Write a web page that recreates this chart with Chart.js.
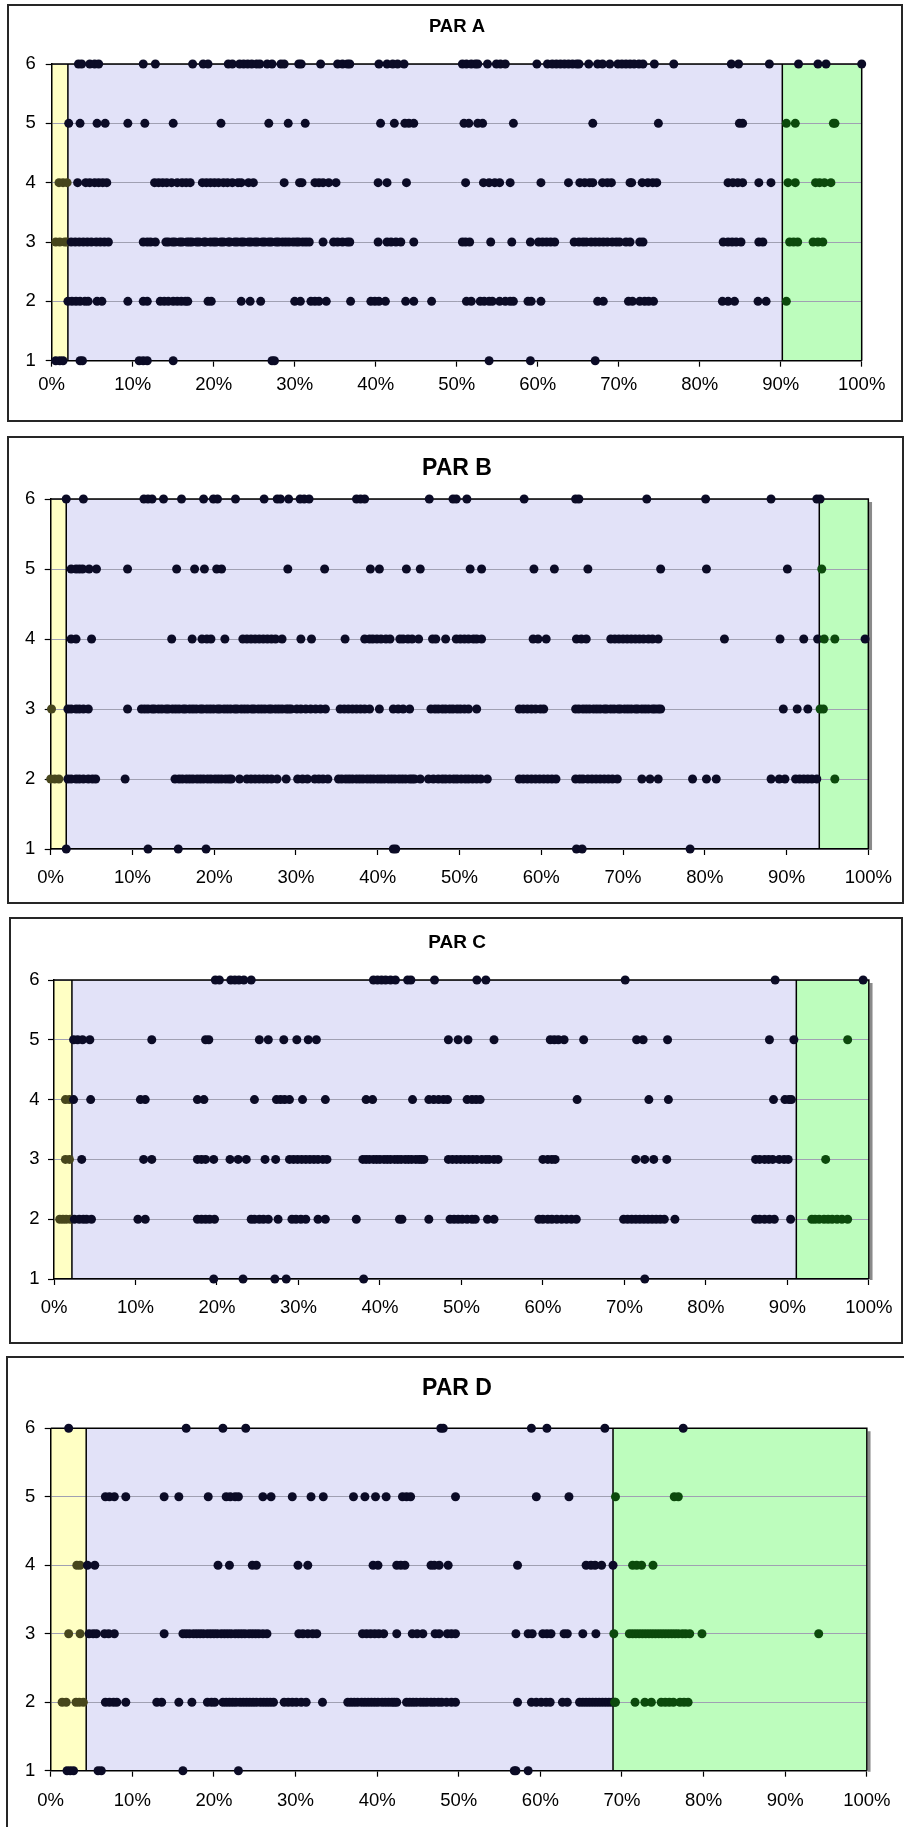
<!DOCTYPE html>
<html>
<head>
<meta charset="utf-8">
<title>PAR A - D</title>
<script src="https://cdn.jsdelivr.net/npm/chart.js@4.4.1/dist/chart.umd.min.js"></script>
<style>
  html, body { margin: 0; padding: 0; background: #fff; }
  #page { position: relative; width: 904px; height: 1827px; overflow: hidden; }
  #page canvas { position: absolute; left: 0; }
  .frame { position: absolute; border: 2px solid #262626; box-sizing: border-box; pointer-events: none; z-index: 2; }
</style>
</head>
<body>
<div id="page">
  <canvas id="chartA"></canvas>
  <canvas id="chartB"></canvas>
  <canvas id="chartC"></canvas>
  <canvas id="chartD"></canvas>
</div>
<script>
// ---- data (x in %, one array per row level) ----
const titles = ['PAR A', 'PAR B', 'PAR C', 'PAR D'];
const yLevels = [1, 2, 3, 4, 5, 6];
const yTickLabels = ['1', '2', '3', '4', '5', '6'];
const xTickLabels = ['0%', '10%', '20%', '30%', '40%', '50%', '60%', '70%', '80%', '90%', '100%'];

// band edges: yellow | lavender | green
const parA_bands = [0, 2.0, 90.2, 100];
const parB_bands = [0, 1.9, 94.0, 100];
const parC_bands = [0, 2.2, 91.1, 100];
const parD_bands = [0, 4.35, 68.9, 100];

const parA_y1 = [0.5, 1.0, 1.4, 3.5, 3.8, 10.8, 11.3, 11.8, 15.0, 27.2, 27.5, 54.0, 59.1, 67.1];
const parA_y2 = [2.0, 2.5, 3.0, 3.5, 4.1, 4.5, 5.6, 6.2, 9.4, 11.3, 11.8, 13.4, 13.9, 14.4, 15.0, 15.5, 16.0, 16.5, 16.8, 19.3, 19.7, 23.4, 24.5, 25.8, 30.0, 30.7, 32.0, 32.5, 33.0, 33.9, 36.9, 39.4, 39.9, 40.4, 41.2, 43.7, 44.7, 46.9, 51.2, 51.8, 52.9, 53.4, 54.0, 54.4, 55.3, 56.0, 56.6, 57.0, 58.8, 59.2, 60.4, 67.4, 68.1, 71.2, 71.7, 72.6, 73.2, 73.7, 74.3, 82.8, 83.5, 84.3, 87.2, 88.2, 90.7];
const parA_y3 = [0.5, 1.0, 1.6, 1.9, 2.4, 2.9, 3.4, 3.9, 4.4, 4.9, 5.5, 6.0, 6.5, 7.0, 11.3, 11.8, 12.2, 12.8, 14.1, 14.4, 14.9, 15.2, 15.8, 16.1, 16.7, 17.0, 17.3, 17.9, 18.2, 18.8, 19.0, 19.6, 20.0, 20.3, 20.9, 21.2, 21.8, 22.0, 22.6, 22.9, 23.4, 23.7, 24.3, 24.6, 25.1, 25.4, 26.0, 26.3, 26.8, 27.1, 27.7, 28.0, 28.5, 28.9, 29.3, 29.8, 30.2, 30.5, 31.0, 31.4, 31.8, 33.5, 34.8, 35.3, 35.9, 36.5, 36.8, 40.3, 41.4, 41.9, 42.5, 43.1, 44.7, 50.7, 51.1, 51.6, 54.2, 56.8, 59.1, 60.1, 60.6, 61.1, 61.6, 62.1, 64.5, 65.1, 65.6, 66.0, 66.6, 67.1, 67.6, 68.1, 68.6, 69.2, 69.7, 70.1, 70.9, 71.4, 72.6, 73.0, 82.9, 83.5, 84.0, 84.5, 85.1, 87.3, 87.8, 91.1, 91.6, 92.1, 94.0, 94.6, 95.2];
const parA_y4 = [0.9, 1.4, 1.9, 3.2, 4.2, 4.7, 5.3, 5.8, 6.3, 6.8, 12.7, 13.2, 13.7, 14.2, 14.8, 15.5, 16.1, 16.6, 17.1, 18.6, 19.1, 19.6, 20.1, 20.6, 21.2, 21.7, 22.3, 23.0, 23.4, 24.3, 24.9, 28.7, 30.6, 30.9, 32.5, 33.0, 33.5, 34.2, 35.1, 40.3, 41.4, 43.8, 51.1, 53.3, 54.0, 54.7, 55.3, 56.6, 60.4, 63.8, 65.2, 65.8, 66.4, 66.8, 68.0, 68.6, 69.1, 71.4, 71.6, 72.9, 73.6, 74.2, 74.7, 83.5, 84.1, 84.7, 85.3, 87.3, 88.8, 90.9, 91.8, 94.3, 94.8, 95.4, 96.2];
const parA_y5 = [2.1, 3.5, 5.6, 6.6, 9.4, 11.5, 15.0, 20.9, 26.8, 29.2, 31.3, 40.6, 42.3, 43.6, 44.1, 44.7, 50.9, 51.5, 52.6, 53.2, 57.0, 66.8, 74.9, 84.9, 85.3, 90.7, 91.8, 96.5, 96.7];
const parA_y6 = [3.3, 3.7, 4.7, 5.3, 5.8, 11.3, 12.8, 17.4, 18.7, 19.3, 21.8, 22.3, 23.2, 23.7, 24.2, 24.7, 25.3, 25.7, 26.6, 27.2, 28.3, 28.7, 30.5, 30.8, 33.2, 35.3, 35.9, 36.5, 36.8, 40.4, 41.4, 42.1, 42.7, 43.5, 50.7, 51.2, 51.8, 52.3, 52.6, 53.8, 54.9, 55.4, 56.0, 59.9, 61.2, 61.8, 62.3, 62.8, 63.3, 63.8, 64.3, 64.8, 65.1, 66.3, 67.4, 68.0, 68.9, 69.9, 70.4, 70.9, 71.4, 71.9, 72.5, 73.0, 74.4, 76.8, 83.9, 84.8, 88.6, 92.2, 94.6, 95.6, 100];

const parB_y1 = [1.9, 11.9, 15.6, 19.0, 41.9, 42.2, 64.3, 65.0, 78.2];
const parB_y2 = [0.0, 0.5, 1.0, 2.1, 2.5, 3.1, 3.5, 4.0, 4.6, 5.1, 5.5, 9.1, 15.2, 15.7, 16.1, 16.6, 17.0, 17.4, 17.9, 18.3, 18.7, 19.2, 19.6, 20.1, 20.5, 20.9, 21.4, 21.8, 22.1, 23.1, 24.0, 24.5, 25.0, 25.5, 26.0, 26.5, 27.0, 27.7, 28.8, 30.2, 30.8, 31.4, 32.3, 32.8, 33.3, 33.9, 35.2, 35.6, 36.1, 36.5, 36.9, 37.4, 37.8, 38.2, 38.7, 39.1, 39.5, 40.0, 40.4, 40.8, 41.3, 41.7, 42.1, 42.6, 43.0, 43.4, 43.9, 44.2, 44.5, 45.2, 46.2, 46.8, 47.4, 47.9, 48.3, 48.8, 49.3, 49.7, 50.2, 50.7, 51.1, 51.6, 52.1, 52.6, 53.4, 57.3, 57.8, 58.3, 58.8, 59.3, 59.8, 60.3, 60.8, 61.3, 61.8, 64.2, 64.7, 65.1, 65.7, 66.2, 66.7, 67.2, 67.7, 68.2, 68.7, 69.3, 72.3, 73.3, 74.3, 78.5, 80.2, 81.4, 88.1, 89.1, 89.8, 91.1, 91.6, 92.1, 92.6, 93.1, 93.7, 95.9];
const parB_y3 = [0.1, 2.1, 2.5, 3.1, 3.5, 4.0, 4.6, 9.4, 11.1, 11.5, 11.9, 12.4, 12.7, 13.2, 13.6, 14.1, 14.4, 14.9, 15.3, 15.7, 16.2, 16.5, 17.0, 17.4, 17.8, 18.3, 18.6, 19.1, 19.5, 19.9, 20.4, 20.7, 21.2, 21.6, 22.0, 22.5, 22.8, 23.3, 23.7, 24.1, 24.6, 24.9, 25.4, 25.8, 26.2, 26.7, 27.0, 27.5, 27.9, 28.3, 28.8, 29.1, 29.4, 30.1, 30.6, 31.2, 31.8, 32.4, 33.0, 33.6, 35.4, 35.9, 36.4, 36.9, 37.4, 37.9, 38.4, 39.0, 40.2, 41.9, 42.5, 43.1, 43.9, 46.5, 47.0, 47.4, 47.9, 48.3, 48.8, 49.2, 49.7, 50.1, 50.6, 51.1, 52.1, 57.3, 57.8, 58.3, 58.8, 59.3, 59.9, 60.3, 64.2, 64.6, 65.1, 65.5, 65.9, 66.4, 66.8, 67.2, 67.7, 68.0, 68.5, 68.9, 69.4, 69.7, 70.2, 70.6, 71.0, 71.5, 71.8, 72.3, 72.7, 73.1, 73.6, 73.9, 74.3, 74.6, 89.6, 91.3, 92.6, 94.1, 94.5];
const parB_y4 = [2.5, 3.1, 5.0, 14.8, 17.3, 18.5, 19.1, 19.6, 21.3, 23.5, 24.0, 24.5, 25.0, 25.5, 26.0, 26.5, 27.0, 27.5, 28.3, 30.6, 31.9, 36.0, 38.4, 39.0, 39.4, 39.9, 40.4, 41.0, 41.5, 42.7, 43.1, 43.7, 44.2, 45.0, 46.7, 47.1, 48.3, 49.6, 50.1, 50.6, 51.1, 51.7, 52.1, 52.7, 59.0, 59.6, 60.6, 64.3, 64.9, 65.5, 68.5, 69.0, 69.5, 70.0, 70.5, 71.0, 71.5, 72.0, 72.5, 73.1, 73.6, 74.3, 82.4, 89.2, 92.1, 93.8, 94.6, 95.9, 99.6];
const parB_y5 = [2.5, 3.1, 3.5, 3.9, 4.7, 5.6, 9.4, 15.4, 17.6, 18.8, 20.3, 20.9, 29.0, 33.5, 39.1, 40.2, 43.5, 45.2, 51.3, 52.7, 59.1, 61.6, 65.7, 74.6, 80.2, 90.1, 94.3];
const parB_y6 = [1.9, 4.0, 11.4, 11.9, 12.4, 13.8, 16.0, 18.7, 19.9, 20.4, 22.6, 26.1, 27.7, 28.1, 29.1, 30.5, 31.0, 31.6, 37.4, 37.9, 38.4, 46.3, 49.2, 49.6, 50.9, 57.9, 64.2, 64.6, 72.9, 80.1, 88.1, 93.7, 94.1];

const parC_y1 = [19.6, 23.2, 27.1, 28.5, 38.0, 72.5];
const parC_y2 = [0.7, 1.1, 1.5, 2.0, 2.5, 3.1, 3.6, 4.0, 4.6, 10.3, 11.2, 17.6, 18.1, 18.6, 19.1, 19.7, 24.2, 24.6, 25.2, 25.7, 26.3, 27.5, 29.2, 29.7, 30.3, 30.9, 32.4, 33.3, 37.1, 42.4, 42.7, 46.0, 48.6, 49.1, 49.6, 50.1, 50.7, 51.3, 51.7, 53.2, 54.0, 59.5, 60.0, 60.6, 61.1, 61.7, 62.3, 62.9, 63.5, 64.1, 69.9, 70.4, 70.9, 71.4, 71.9, 72.4, 72.9, 73.4, 73.9, 74.4, 74.9, 76.2, 86.1, 86.6, 87.2, 87.8, 88.4, 90.4, 93.0, 93.4, 93.9, 94.5, 95.0, 95.5, 96.1, 96.7, 97.4];
const parC_y3 = [1.4, 1.9, 3.4, 11.0, 12.0, 17.6, 18.1, 18.6, 19.6, 21.6, 22.6, 23.6, 25.9, 27.2, 28.9, 29.4, 29.9, 30.4, 30.9, 31.4, 31.9, 32.4, 33.0, 33.5, 37.9, 38.3, 38.7, 39.2, 39.6, 40.0, 40.5, 40.9, 41.3, 41.8, 42.2, 42.6, 43.1, 43.5, 43.9, 44.4, 44.8, 45.1, 45.4, 48.4, 48.9, 49.4, 49.9, 50.4, 50.9, 51.4, 51.9, 52.5, 53.0, 53.4, 54.0, 54.5, 60.0, 60.6, 61.1, 61.5, 71.4, 72.5, 73.6, 75.2, 86.1, 86.6, 87.2, 87.7, 88.2, 89.0, 89.6, 90.1, 94.7];
const parC_y4 = [1.4, 1.9, 2.4, 4.5, 10.6, 11.2, 17.6, 18.4, 24.6, 27.3, 27.8, 28.3, 28.9, 30.5, 33.3, 38.3, 39.1, 44.0, 46.0, 46.6, 47.2, 47.8, 48.3, 50.7, 51.3, 51.8, 52.3, 64.2, 73.0, 75.4, 88.3, 89.7, 90.2, 90.5];
const parC_y5 = [2.4, 2.9, 3.5, 4.4, 12.0, 18.6, 19.0, 25.2, 26.3, 28.2, 29.8, 31.2, 32.2, 48.4, 49.6, 50.8, 54.0, 60.9, 61.4, 61.9, 62.6, 65.0, 71.5, 72.3, 75.3, 87.8, 90.8, 97.4];
const parC_y6 = [19.8, 20.3, 21.7, 22.2, 22.7, 23.3, 24.2, 39.2, 39.7, 40.2, 40.7, 41.3, 41.9, 43.4, 43.8, 46.7, 51.9, 53.0, 70.1, 88.5, 99.3];

const parD_y1 = [2.0, 2.4, 2.8, 5.8, 6.2, 16.2, 23.0, 56.8, 57.0, 58.5];
const parD_y2 = [1.4, 1.9, 3.1, 3.5, 4.0, 6.7, 7.2, 7.7, 8.1, 9.2, 13.0, 13.6, 15.7, 17.3, 19.2, 19.7, 20.1, 21.1, 21.5, 21.9, 22.3, 22.7, 23.2, 23.6, 24.0, 24.4, 24.8, 25.2, 25.7, 26.1, 26.5, 26.9, 27.3, 28.6, 29.1, 29.6, 30.1, 30.7, 31.3, 33.3, 36.4, 36.8, 37.2, 37.6, 38.1, 38.5, 38.9, 39.3, 39.7, 40.1, 40.6, 41.0, 41.4, 41.8, 42.1, 42.4, 43.6, 44.0, 44.4, 44.8, 45.3, 45.7, 46.1, 46.6, 47.0, 47.5, 47.9, 48.5, 49.1, 49.6, 57.2, 58.9, 59.5, 60.1, 60.7, 61.2, 62.7, 63.3, 64.8, 65.2, 65.6, 66.0, 66.4, 66.8, 67.2, 67.6, 68.0, 68.4, 68.8, 69.1, 69.2, 71.6, 72.8, 73.6, 74.8, 75.3, 75.8, 76.3, 77.1, 77.6, 78.1];
const parD_y3 = [2.2, 3.6, 4.7, 5.2, 5.6, 6.6, 7.1, 7.8, 13.9, 16.2, 16.6, 17.0, 17.5, 17.9, 18.3, 18.7, 19.2, 19.6, 20.0, 20.4, 20.9, 21.3, 21.7, 22.1, 22.6, 23.0, 23.4, 23.8, 24.3, 24.7, 25.1, 25.5, 26.0, 26.5, 30.4, 30.9, 31.5, 32.1, 32.6, 38.2, 38.7, 39.2, 39.7, 40.2, 40.8, 42.4, 44.3, 44.9, 45.6, 47.1, 47.6, 48.6, 49.1, 49.6, 57.0, 58.5, 59.0, 60.3, 60.8, 61.3, 62.9, 63.3, 65.2, 66.8, 69.0, 70.9, 71.3, 71.7, 72.1, 72.5, 72.9, 73.3, 73.7, 74.1, 74.5, 74.9, 75.3, 75.7, 76.1, 76.5, 76.9, 77.4, 77.8, 78.3, 79.8, 94.1];
const parD_y4 = [3.2, 3.6, 4.5, 5.4, 20.5, 21.9, 24.7, 25.2, 30.3, 31.5, 39.5, 40.1, 42.4, 42.9, 43.4, 46.6, 47.0, 47.6, 48.7, 57.2, 65.6, 66.2, 66.7, 67.5, 68.9, 71.3, 71.8, 72.4, 73.8];
const parD_y5 = [6.7, 7.2, 7.8, 9.2, 13.9, 15.7, 19.3, 21.5, 22.0, 22.6, 23.0, 26.0, 27.0, 29.6, 31.9, 33.4, 37.1, 38.5, 39.8, 41.1, 43.1, 43.6, 44.1, 49.6, 59.5, 63.5, 69.2, 76.4, 76.9];
const parD_y6 = [2.2, 16.6, 21.1, 23.9, 47.8, 48.1, 58.9, 60.8, 67.9, 77.5];

// ---- styling / layout ----
const FONT = "'Liberation Sans', Arial, sans-serif";
const bandColors = ['#ffffc4', '#e2e2f8', '#bdfdbd'];
const dotColors = ['#47461c', '#0b0b26', '#0c4a0c'];
const X_AXIS_H = 40;

// page coords of each panel: canvas strip, plot area, frame box
const panels = [
    { id: 'chartA', title: titles[0], bands: parA_bands, rows: [parA_y1, parA_y2, parA_y3, parA_y4, parA_y5, parA_y6],
      top: 0, height: 425, area: { left: 51.7, right: 861.7, top: 64, bottom: 360.7 },
      titleSize: 18.5, titleY: 27, xPad: 7, yPad: 10, shadow: false, frame: [7, 4, 896, 418] },
    { id: 'chartB', title: titles[1], bands: parB_bands, rows: [parB_y1, parB_y2, parB_y3, parB_y4, parB_y5, parB_y6],
      top: 430, height: 475, area: { left: 50.7, right: 877.7, top: 499, bottom: 849 },
      titleSize: 23, titleY: 468.3, xPad: 12, yPad: 9.5, shadow: true, frame: [7, 436, 897, 468] },
    { id: 'chartC', title: titles[2], bands: parC_bands, rows: [parC_y1, parC_y2, parC_y3, parC_y4, parC_y5, parC_y6],
      top: 910, height: 440, area: { left: 54, right: 877.3, top: 980, bottom: 1279 },
      titleSize: 19, titleY: 943, xPad: 11.5, yPad: 8.5, shadow: true, frame: [9, 917, 894, 427] },
    { id: 'chartD', title: titles[3], bands: parD_bands, rows: [parD_y1, parD_y2, parD_y3, parD_y4, parD_y5, parD_y6],
      top: 1350, height: 477, area: { left: 50.7, right: 879.3, top: 1428.3, bottom: 1770.7 },
      titleSize: 23, titleY: 1388.3, xPad: 13.5, yPad: 9.5, shadow: true, frame: [6, 1356, 910, 480] }
];

// coloured bands under the grid, outlines and title on top of it
const bandPlugin = {
    id: 'bands',
    beforeDraw(chart, args, opts) {
        const { ctx, chartArea: a, scales: { x } } = chart;
        const e = opts.edges;
        ctx.save();
        for (let i = 0; i < 3; i++) {
            const x0 = x.getPixelForValue(e[i]);
            const x1 = x.getPixelForValue(e[i + 1]);
            ctx.fillStyle = bandColors[i];
            ctx.fillRect(x0, a.top, x1 - x0, a.bottom - a.top);
        }
        ctx.restore();
    },
    beforeDatasetsDraw(chart, args, opts) {
        const { ctx, chartArea: a, scales: { x } } = chart;
        const e = opts.edges;
        ctx.save();
        if (opts.shadow) {
            ctx.strokeStyle = '#8a8a8a';
            ctx.lineWidth = 3;
            ctx.beginPath();
            ctx.moveTo(a.right + 2.2, a.top + 3);
            ctx.lineTo(a.right + 2.2, a.bottom + 1);
            ctx.stroke();
        }
        ctx.strokeStyle = '#000';
        ctx.lineWidth = 1.5;
        ctx.beginPath();
        ctx.moveTo(a.left, a.top);
        ctx.lineTo(a.right, a.top);
        ctx.lineTo(a.right, a.bottom);
        [e[1], e[2]].forEach(v => {
            const px = x.getPixelForValue(v);
            ctx.moveTo(px, a.top);
            ctx.lineTo(px, a.bottom);
        });
        ctx.stroke();
        // panel title
        ctx.fillStyle = '#000';
        ctx.font = 'bold ' + opts.titleSize + 'px ' + FONT;
        ctx.textAlign = 'center';
        ctx.textBaseline = 'middle';
        ctx.fillText(opts.title, opts.titleX, opts.titleY);
        ctx.restore();
    }
};

// dots look tinted by the band they sit in; the ones on the border rows stay dark
function dotColor(edges) {
    return function (c) {
        if (!c.raw) return dotColors[1];
        const v = c.raw.x;
        if (c.raw.y === 1 || c.raw.y === 6 || v > edges[3] - 1) return dotColors[1];
        if (v < edges[1]) return dotColors[0];
        if (v > edges[2]) return dotColors[2];
        return dotColors[1];
    };
}

function makePanel(p) {
    const canvas = document.getElementById(p.id);
    canvas.width = 904;
    canvas.height = p.height;
    canvas.style.top = p.top + 'px';
    canvas.style.width = '904px';
    canvas.style.height = p.height + 'px';

    const frame = document.createElement('div');
    frame.className = 'frame';
    frame.style.left = p.frame[0] + 'px';
    frame.style.top = p.frame[1] + 'px';
    frame.style.width = p.frame[2] + 'px';
    frame.style.height = p.frame[3] + 'px';
    document.getElementById('page').appendChild(frame);

    const areaTop = p.area.top - p.top;
    const areaBottom = p.area.bottom - p.top;
    const tickFont = { family: FONT, size: 18.5 };

    return new Chart(canvas, {
        type: 'scatter',
        data: {
            datasets: p.rows.map((xs, i) => ({
                label: 'level ' + yLevels[i],
                data: xs.map(v => ({ x: v, y: yLevels[i] })),
                pointRadius: 4.5,
                pointHoverRadius: 4.5,
                pointBorderWidth: 0,
                pointBackgroundColor: dotColor(p.bands),
                clip: false
            }))
        },
        options: {
            responsive: false,
            animation: false,
            devicePixelRatio: 1,
            events: [],
            layout: {
                padding: { left: 0, top: areaTop, right: 904 - p.area.right, bottom: p.height - areaBottom - X_AXIS_H }
            },
            plugins: {
                legend: { display: false },
                tooltip: { enabled: false },
                title: { display: false },
                bands: { edges: p.bands, shadow: p.shadow, title: p.title, titleSize: p.titleSize, titleX: 457, titleY: p.titleY - p.top }
            },
            scales: {
                x: {
                    type: 'linear',
                    min: 0,
                    max: 100,
                    afterFit: s => { s.height = X_AXIS_H; },
                    ticks: {
                        stepSize: 10,
                        autoSkip: false,
                        maxRotation: 0,
                        color: '#000',
                        font: tickFont,
                        padding: p.xPad,
                        callback: v => xTickLabels[Math.round(v / 10)]
                    },
                    grid: { drawOnChartArea: false, drawTicks: true, tickLength: 6, tickColor: '#000', tickWidth: 1.2 },
                    border: { color: '#000', width: 1.5 }
                },
                y: {
                    type: 'linear',
                    min: 1,
                    max: 6,
                    afterFit: s => { s.width = p.area.left; },
                    ticks: {
                        stepSize: 1,
                        color: '#000',
                        font: tickFont,
                        padding: p.yPad,
                        callback: v => yTickLabels[Math.round(v) - 1]
                    },
                    grid: { color: '#a0a0b2', lineWidth: 1, drawTicks: true, tickLength: 6, tickColor: '#000', tickWidth: 1.2 },
                    border: { color: '#000', width: 1.5 }
                }
            }
        },
        plugins: [bandPlugin]
    });
}

panels.forEach(makePanel);
</script>
</body>
</html>
